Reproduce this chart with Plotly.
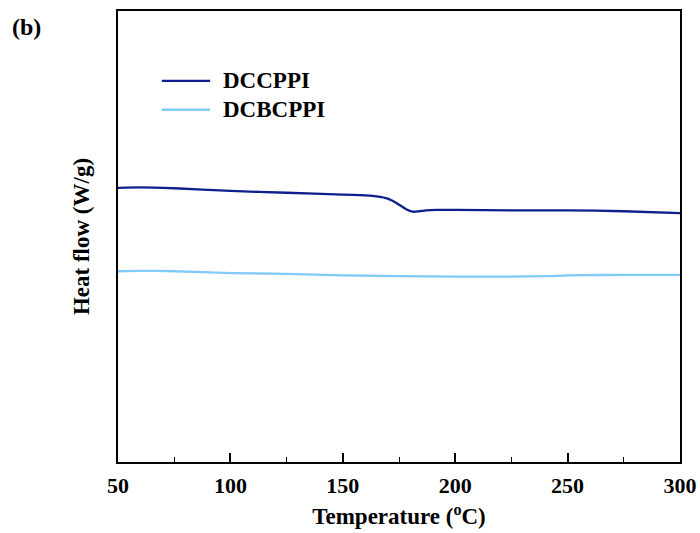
import plotly.graph_objects as go

# DSC data (arbitrary heat-flow units)
temp_dccppi = [50, 60, 75, 100, 125, 150, 160, 165, 170, 174, 178, 181, 184, 187, 192, 200, 225, 250, 275, 300]
hf_dccppi = [6.08, 6.09, 6.07, 6.01, 5.97, 5.93, 5.91, 5.89, 5.84, 5.74, 5.61, 5.55, 5.56, 5.58, 5.59, 5.59, 5.58, 5.58, 5.56, 5.52]

temp_dcbcppi = [50, 60, 75, 100, 125, 150, 175, 200, 225, 240, 250, 275, 300]
hf_dcbcppi = [4.23, 4.24, 4.23, 4.19, 4.17, 4.14, 4.12, 4.11, 4.11, 4.12, 4.14, 4.15, 4.15]

series_names = ["DCCPPI", "DCBCPPI"]
series_colors = ["#0d1f8c", "#82cbf8"]
x_ticks = [50, 100, 150, 200, 250, 300]

FONT = "Liberation Serif"

fig = go.Figure()
for xs, ys, name, col in [(temp_dccppi, hf_dccppi, series_names[0], series_colors[0]),
                          (temp_dcbcppi, hf_dcbcppi, series_names[1], series_colors[1])]:
    fig.add_trace(go.Scatter(x=xs, y=ys, mode="lines", name=name, showlegend=False,
                             line=dict(color=col, width=2.3, shape="spline", smoothing=0.6)))

# manual legend (paper coordinates)
leg_y = [0.845, 0.781]
for i, name in enumerate(series_names):
    fig.add_shape(type="line", xref="paper", yref="paper", x0=0.078, x1=0.164,
                  y0=leg_y[i], y1=leg_y[i], line=dict(color=series_colors[i], width=2.3))
    fig.add_annotation(text=f"<b>{name}</b>", xref="paper", yref="paper", x=0.183, y=leg_y[i],
                       xanchor="left", yanchor="middle", showarrow=False,
                       font=dict(family=FONT, size=23, color="black"))

fig.update_layout(
    width=700, height=533,
    margin=dict(l=118, r=20, t=11, b=71),
    paper_bgcolor="white", plot_bgcolor="white",
    font=dict(family=FONT, size=22, color="black"),
    showlegend=False,
    xaxis=dict(range=[50, 300], tickvals=x_ticks, ticks="inside", ticklen=9, tickwidth=1.5,
               tickcolor="black", showline=True, linecolor="black", linewidth=1.5, mirror=True,
               showgrid=False, zeroline=False, automargin=False, ticklabelstandoff=3,
               minor=dict(ticks="inside", ticklen=5, tickwidth=1.2, tickcolor="black", dtick=25),
               tickfont=dict(family=FONT, size=22, color="black", weight="bold"),
               title=dict(text="<b>Temperature (<sup>o</sup>C)</b>", font=dict(family=FONT, size=23), standoff=11)),
    yaxis=dict(range=[0, 10], showticklabels=False, ticks="", showline=True, linecolor="black",
               linewidth=1.5, mirror=True, showgrid=False, zeroline=False, automargin=False,
               title=dict(text="<b>Heat flow (W/g)</b>", font=dict(family=FONT, size=23), standoff=20)),
)

fig.add_annotation(text="<b>(b)</b>", xref="paper", yref="paper", x=-0.162, y=0.965,
                   xanchor="center", yanchor="middle", showarrow=False,
                   font=dict(family=FONT, size=24, color="black"))

fig.write_html("out.html")
